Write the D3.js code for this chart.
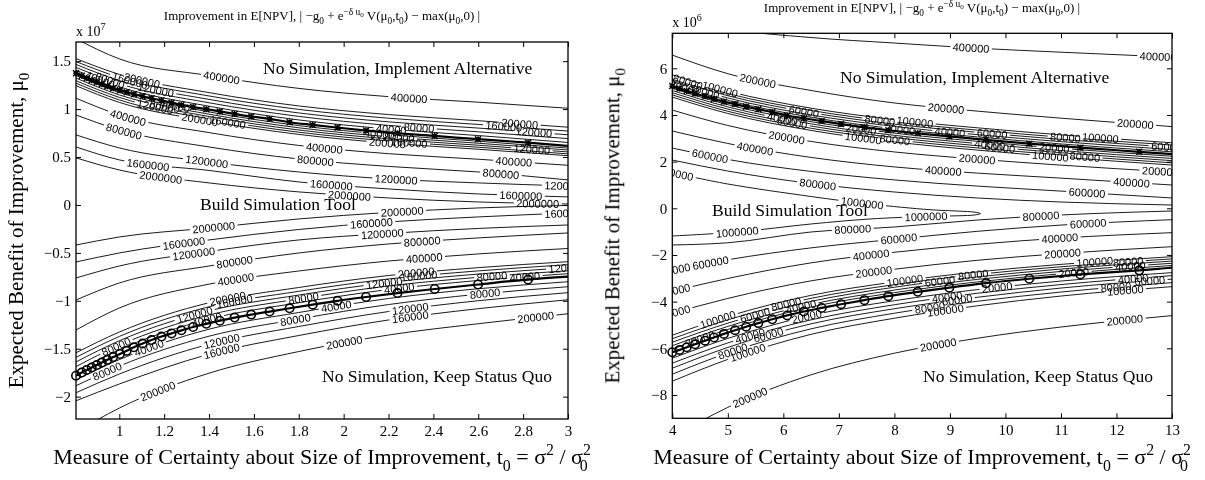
<!DOCTYPE html>
<html>
<head>
<meta charset="utf-8">
<script src="https://cdn.jsdelivr.net/npm/d3@7/dist/d3.min.js"></script>
<style>
html,body{margin:0;padding:0;background:#fff;}
svg{display:block;}
.gray{opacity:0.999;}
</style>
</head>
<body>
<svg id="chart" width="1205" height="480"></svg>
<script>
// ====================== DATA ======================
// ---- Left panel: t0 in [0.807,3], mu0 in units of 1e7 ----
const leftT = [0.807, 1.0, 1.4, 1.8, 2.2, 2.6, 3.0];

const leftLevelsImplement = [40000, 80000, 120000, 160000, 200000, 400000];
const leftMuImplement = [
  [1.405, 1.233, 1.030, 0.887, 0.792, 0.724, 0.652],
  [1.435, 1.265, 1.066, 0.924, 0.830, 0.763, 0.692],
  [1.466, 1.297, 1.101, 0.960, 0.867, 0.802, 0.732],
  [1.496, 1.330, 1.137, 0.997, 0.905, 0.840, 0.771],
  [1.526, 1.362, 1.172, 1.033, 0.943, 0.879, 0.811],
  [1.733, 1.524, 1.350, 1.216, 1.130, 1.072, 1.009]
];
const leftLabImplement = [[0.914, 2.212], [0.958, 2.336], [1.163, 2.848], [1.048, 2.714], [1.101, 2.785], [1.456, 2.292]];

const leftLevelsBuildUp = [40000, 80000, 120000, 160000, 200000, 400000, 800000, 1200000, 1600000, 2000000];
const leftMuBuildUp = [
  [1.349, 1.174, 0.971, 0.828, 0.733, 0.665, 0.593],
  [1.323, 1.148, 0.947, 0.805, 0.711, 0.644, 0.573],
  [1.296, 1.122, 0.923, 0.782, 0.689, 0.623, 0.553],
  [1.270, 1.096, 0.899, 0.759, 0.667, 0.602, 0.533],
  [1.244, 1.070, 0.875, 0.736, 0.645, 0.581, 0.514],
  [1.114, 0.939, 0.755, 0.621, 0.535, 0.477, 0.414],
  [0.939, 0.783, 0.605, 0.480, 0.402, 0.344, 0.261],
  [0.731, 0.595, 0.449, 0.344, 0.271, 0.230, 0.198],
  [0.605, 0.470, 0.360, 0.240, 0.167, 0.115, 0.084],
  [0.491, 0.365, 0.230, 0.136, 0.073, 0.031, 0.010]
];
const leftLabBuildUp = [[1.248, 2.159], [1.203, 2.248], [1.159, 2.839], [1.483, 2.292], [1.359, 2.195],
  [1.039, 1.914, 2.759], [1.021, 1.874, 2.701], [1.39, 2.234, 2.99], [1.128, 1.945, 2.79], [1.185, 2.026, 2.865]];

const leftLevelsBuildLow = [2000000, 1600000, 1200000, 800000, 400000, 200000, 160000, 120000, 80000, 40000];
const leftMuBuildLow = [
  [-0.418, -0.334, -0.240, -0.146, -0.078, -0.031, -0.005],
  [-0.595, -0.501, -0.365, -0.256, -0.177, -0.125, -0.084],
  [-0.762, -0.637, -0.485, -0.365, -0.297, -0.245, -0.209],
  [-0.992, -0.814, -0.637, -0.501, -0.407, -0.344, -0.292],
  [-1.305, -1.075, -0.826, -0.689, -0.585, -0.511, -0.454],
  [-1.542, -1.326, -1.020, -0.861, -0.736, -0.654, -0.592],
  [-1.590, -1.372, -1.062, -0.901, -0.772, -0.688, -0.623],
  [-1.638, -1.417, -1.105, -0.940, -0.809, -0.721, -0.654],
  [-1.686, -1.463, -1.148, -0.980, -0.845, -0.755, -0.686],
  [-1.734, -1.509, -1.191, -1.020, -0.882, -0.788, -0.717]
];
const leftLabBuildLow = [[1.421, 2.261], [1.288, 2.124, 2.99], [1.332, 2.172], [1.514, 2.35], [1.519, 2.359],
  [1.483, 2.323], [1.514, 2.336], [1.336, 2.181, 2.995], [0.986, 1.821, 2.661], [1.39, 2.248, 2.808]];

const leftLevelsQuo = [40000, 80000, 120000, 160000, 200000];
const leftMuQuo = [
  [-1.824, -1.613, -1.296, -1.122, -0.976, -0.874, -0.801],
  [-1.886, -1.681, -1.369, -1.190, -1.039, -0.931, -0.853],
  [-1.959, -1.764, -1.453, -1.268, -1.112, -0.999, -0.915],
  [-2.043, -1.868, -1.557, -1.362, -1.200, -1.082, -0.989],
  [-2.369, -2.119, -1.755, -1.529, -1.357, -1.239, -1.135]
];
const leftLabQuo = [[1.133, 1.967], [0.946, 1.785, 2.63], [1.456, 2.297], [1.456, 2.297], [1.172, 2.003, 2.856]];

// boundaries (markers at grid t values, line continues to the right edge)
const leftGridT = [0.807, 0.833, 0.855, 0.877, 0.900, 0.922, 0.947, 0.973, 1.003, 1.033, 1.065, 1.104, 1.144, 1.188, 1.233,
  1.277, 1.329, 1.388, 1.448, 1.514, 1.588, 1.670, 1.759, 1.862, 1.973, 2.100, 2.240, 2.406, 2.599, 2.822, 3.0];
const leftUpperMu = [1.375, 1.347, 1.323, 1.301, 1.279, 1.259, 1.238, 1.218, 1.197, 1.176, 1.156, 1.133, 1.112, 1.091, 1.065,
  1.044, 1.021, 0.999, 0.976, 0.950, 0.922, 0.898, 0.863, 0.835, 0.807, 0.776, 0.748, 0.720, 0.686, 0.650, 0.616];
const leftLowerMu = [-1.782, -1.748, -1.722, -1.696, -1.670, -1.644, -1.616, -1.587, -1.555, -1.522, -1.485, -1.446, -1.409, -1.373, -1.340,
  -1.308, -1.273, -1.240, -1.208, -1.175, -1.144, -1.112, -1.078, -1.040, -1.000, -0.960, -0.919, -0.877, -0.830, -0.778, -0.748];

const leftXTicks = [1, 1.2, 1.4, 1.6, 1.8, 2, 2.2, 2.4, 2.6, 2.8, 3];
const leftYTicks = [-2, -1.5, -1, -0.5, 0, 0.5, 1, 1.5];

// ---- Right panel: t0 in [4,13], mu0 in units of 1e6 ----
const rightT = [4, 5, 6.5, 8, 9.5, 11, 13];

const rightLevelsImplement = [20000, 40000, 60000, 80000, 100000, 200000, 400000];
const rightMuImplement = [
  [5.332, 4.628, 3.902, 3.409, 3.058, 2.758, 2.420],
  [5.430, 4.727, 4.000, 3.508, 3.156, 2.857, 2.518],
  [5.529, 4.825, 4.099, 3.606, 3.255, 2.955, 2.617],
  [5.623, 4.919, 4.193, 3.700, 3.349, 3.049, 2.711],
  [5.722, 5.018, 4.291, 3.799, 3.448, 3.148, 2.809],
  [6.565, 5.769, 5.049, 4.514, 4.163, 3.863, 3.503],
  [8.236, 7.696, 7.319, 7.083, 6.861, 6.690, 6.480]
];
const rightLabImplement = [[4.22, 8.1], [4.58, 9.0], [6.37, 9.76, 12.9], [4.28, 7.74, 11.08], [4.86, 8.37, 11.71], [5.54, 8.93, 12.34], [9.38, 12.75]];

const rightLevelsBuildUp = [20000, 40000, 60000, 80000, 100000, 200000, 400000, 600000, 800000];
const rightMuBuildUp = [
  [5.144, 4.440, 3.713, 3.221, 2.869, 2.570, 2.231],
  [5.049, 4.346, 3.619, 3.126, 2.775, 2.475, 2.137],
  [4.955, 4.251, 3.525, 3.032, 2.681, 2.381, 2.043],
  [4.861, 4.157, 3.430, 2.938, 2.587, 2.287, 1.949],
  [4.767, 4.063, 3.336, 2.844, 2.493, 2.193, 1.854],
  [4.210, 3.549, 2.865, 2.415, 2.107, 1.850, 1.555],
  [3.311, 2.778, 2.180, 1.773, 1.508, 1.293, 0.998],
  [2.582, 2.093, 1.580, 1.216, 0.951, 0.737, 0.441],
  [2.069, 1.597, 1.062, 0.698, 0.441, 0.270, 0.141]
];
const rightLabBuildUp = [[7.40, 10.88], [5.98, 9.72], [6.16, 9.9], [8.01, 11.43], [7.44, 10.81], [6.06, 9.49, 12.79],
  [5.49, 8.88, 12.27], [4.68, 11.47], [6.62]];

// the 1000000 contour closes on itself (rounded U turn near t0 = 9.5)
const rightRidgeLevel = 1000000;
const rightRidgeT = [4, 5, 6.5, 7.56, 8.64, 9.15, 9.45, 9.55, 9.45, 9.15, 8.64, 7.56, 6.5, 5.17, 4];
const rightRidgeMu = [1.525, 1.041, 0.505, 0.184, -0.060, -0.120, -0.165, -0.225, -0.285, -0.320, -0.345, -0.458, -0.672, -1.015, -1.186];
const rightRidgeLab = [[3.93, 0], [7.42, 0], [8.57, 1], [5.17, 1]];

const rightLevelsBuildLow = [20000, 40000, 60000, 80000, 100000, 200000, 400000, 600000, 800000];
const rightMuBuildLow = [
  [-6.039, -5.191, -4.231, -3.615, -3.152, -2.805, -2.450],
  [-5.889, -5.062, -4.116, -3.503, -3.045, -2.707, -2.355],
  [-5.739, -4.921, -3.987, -3.383, -2.938, -2.604, -2.261],
  [-5.589, -4.780, -3.859, -3.272, -2.831, -2.505, -2.167],
  [-5.439, -4.634, -3.730, -3.156, -2.724, -2.403, -2.073],
  [-4.497, -3.863, -3.109, -2.612, -2.227, -1.940, -1.645],
  [-3.555, -3.007, -2.338, -1.884, -1.542, -1.276, -1.045],
  [-2.655, -2.206, -1.696, -1.328, -0.985, -0.719, -0.488],
  [-1.572, -1.478, -1.015, -0.801, -0.501, -0.287, -0.116]
];
const rightLabBuildLow = [[4.5, 11.23], [6.32, 12.25], [5.49, 8.82], [6.05, 9.42, 12.21], [4.82, 8.19, 11.61],
  [3.95, 7.63, 11.03], [3.93, 7.58, 10.98], [3.87, 4.69, 8.08, 11.49], [7.25, 10.64]];

const rightLevelsQuo = [20000, 40000, 60000, 80000, 100000, 200000];
const rightMuQuo = [
  [-6.424, -5.576, -4.587, -3.961, -3.482, -3.118, -2.758],
  [-6.638, -5.769, -4.780, -4.133, -3.640, -3.268, -2.886],
  [-6.852, -5.962, -4.951, -4.304, -3.812, -3.418, -3.036],
  [-7.109, -6.197, -5.165, -4.497, -3.983, -3.589, -3.186],
  [-7.409, -6.476, -5.400, -4.711, -4.176, -3.760, -3.358],
  [-9.807, -8.531, -7.135, -6.210, -5.567, -5.088, -4.600]
];
const rightLabQuo = [[6.42, 9.85], [5.4, 8.95, 12.3], [5.73, 9.13, 12.6], [5.09, 8.64, 11.99], [5.36, 8.92, 12.16], [5.4, 8.79, 12.15]];

const rightGridT = [4.00, 4.13, 4.26, 4.41, 4.59, 4.75, 4.93, 5.13, 5.33, 5.55, 5.80, 6.07, 6.37, 6.69, 7.04, 7.46, 7.89,
  8.42, 8.99, 9.65, 10.43, 11.35, 12.41, 13.0];
const rightUpperMu = [5.238, 5.131, 5.024, 4.916, 4.797, 4.681, 4.570, 4.467, 4.360, 4.240, 4.124, 3.979, 3.859, 3.739, 3.610,
  3.469, 3.345, 3.212, 3.079, 2.934, 2.771, 2.600, 2.420, 2.321];
const rightLowerMu = [-6.167, -6.069, -5.957, -5.829, -5.675, -5.537, -5.383, -5.225, -5.075, -4.921, -4.754, -4.591, -4.424,
  -4.270, -4.111, -3.936, -3.764, -3.580, -3.400, -3.208, -3.020, -2.835, -2.660, -2.544];

const rightXTicks = [4, 5, 6, 7, 8, 9, 10, 11, 12, 13];
const rightYTicks = [-8, -6, -4, -2, 0, 2, 4, 6];

const regionTexts = ["No Simulation, Implement Alternative", "Build Simulation Tool", "No Simulation, Keep Status Quo"];

// ====================== DRAWING ======================
const SERIF = "'Liberation Serif', 'Times New Roman', Times, serif";
const SANS = "'Liberation Sans', Arial, Helvetica, sans-serif";
const svg = d3.select('#chart');
svg.append('rect').attr('width', 1205).attr('height', 480).attr('fill', '#fff');
const defs = svg.append('defs');
let maskCount = 0;

function drawContour(lineG, labelG, x, y, T, mu, level, labelSpecs, curve) {
  const pts = T.map((t, i) => [x(t), y(mu[i])]);
  const path = lineG.append('path')
    .attr('d', d3.line().curve(curve)(pts))
    .attr('fill', 'none').attr('stroke', '#000').attr('stroke-width', 0.9);
  if (!labelSpecs || !labelSpecs.length) return;
  const node = path.node();
  const L = node.getTotalLength();
  const samples = [];
  for (let l = 0; l <= L; l += 1) { const p = node.getPointAtLength(l); samples.push({ l, x: p.x }); }
  const id = 'lm' + (maskCount++);
  const mask = defs.append('mask').attr('id', id).attr('maskUnits', 'userSpaceOnUse')
    .attr('x', 0).attr('y', 0).attr('width', 1205).attr('height', 480);
  mask.append('rect').attr('x', 0).attr('y', 0).attr('width', 1205).attr('height', 480).attr('fill', '#fff');
  labelSpecs.forEach(spec => {
    const tv = Array.isArray(spec) ? spec[0] : spec;
    const k = Array.isArray(spec) ? spec[1] : 0;
    const tx = x(tv);
    const cross = [];
    for (let i = 1; i < samples.length; i++) {
      const a = samples[i - 1], b = samples[i];
      if ((a.x - tx) * (b.x - tx) < 0 || (b.x === tx)) {
        const f = (b.x === a.x) ? 0 : (tx - a.x) / (b.x - a.x);
        cross.push(a.l + f * (b.l - a.l));
      }
    }
    let l;
    if (cross.length) l = cross[Math.min(k, cross.length - 1)];
    else l = (Math.abs(samples[0].x - tx) < Math.abs(samples[samples.length - 1].x - tx)) ? 0 : L;
    const p = node.getPointAtLength(l);
    const p1 = node.getPointAtLength(Math.max(0, l - 5));
    const p2 = node.getPointAtLength(Math.min(L, l + 5));
    let ang = Math.atan2(p2.y - p1.y, p2.x - p1.x) * 180 / Math.PI;
    if (ang > 90) ang -= 180;
    if (ang < -90) ang += 180;
    const tr = `translate(${p.x.toFixed(2)},${p.y.toFixed(2)}) rotate(${ang.toFixed(2)})`;
    const txt = labelG.append('text').attr('transform', tr).attr('text-anchor', 'middle')
      .attr('dy', '0.36em').text(String(level));
    const w = txt.node().getComputedTextLength();
    mask.append('rect').attr('transform', tr).attr('x', -w / 2 - 2.5).attr('y', -4.5)
      .attr('width', w + 5).attr('height', 9).attr('fill', '#000');
  });
  path.attr('mask', `url(#${id})`);
}

function richText(sel, parts) {
  let cur = 0;
  parts.forEach(([t, mode, dx]) => {
    const fs = parseFloat(sel.attr('font-size'));
    let target = 0, size = fs;
    if (mode === 'sub') { target = fs * 0.3; size = fs * 0.72; }
    if (mode === 'sup') { target = -fs * 0.42; size = fs * 0.72; }
    if (mode === 'supsub') { target = -fs * 0.22; size = fs * 0.55; }
    const ts = sel.append('tspan').attr('dy', (target - cur).toFixed(2)).attr('font-size', size).text(t);
    if (dx) ts.attr('dx', dx);
    cur = target;
  });
}

function panel(g) {
  const x = d3.scaleLinear().domain(g.xDom).range([g.x0, g.x1]);
  const y = d3.scaleLinear().domain(g.yDom).range([g.y1, g.y0]);
  const clipId = 'clip' + g.id;
  defs.append('clipPath').attr('id', clipId).append('rect')
    .attr('x', g.x0).attr('y', g.y0).attr('width', g.x1 - g.x0).attr('height', g.y1 - g.y0);
  const root = svg.append('g').attr('class', 'gray');
  const plot = root.append('g').attr('clip-path', `url(#${clipId})`);
  const lineG = plot.append('g');
  const labelG = plot.append('g').attr('font-family', SANS).attr('font-size', 11).attr('fill', '#000');

  g.families.forEach(f => {
    f.levels.forEach((lev, i) => drawContour(lineG, labelG, x, y, f.T, f.mu[i], lev, f.labels[i], d3.curveMonotoneX));
  });
  if (g.ridge) drawContour(lineG, labelG, x, y, g.ridge.T, g.ridge.mu, g.ridge.level, g.ridge.labels, d3.curveCatmullRom.alpha(0.5));

  const bl = d3.line().curve(d3.curveMonotoneX);
  plot.append('path').attr('d', bl(g.gridT.map((t, i) => [x(t), y(g.upper[i])])))
    .attr('fill', 'none').attr('stroke', '#000').attr('stroke-width', 2.2);
  plot.append('path').attr('d', bl(g.gridT.map((t, i) => [x(t), y(g.lower[i])])))
    .attr('fill', 'none').attr('stroke', '#000').attr('stroke-width', 2.2);

  const mk = root.append('g');
  const nM = g.gridT.length - 1;
  for (let i = 0; i < nM; i++) {
    const cx = x(g.gridT[i]), cyU = y(g.upper[i]), cyL = y(g.lower[i]);
    const s = 3;
    mk.append('path').attr('d', `M${cx - s},${cyU - s}L${cx + s},${cyU + s}M${cx - s},${cyU + s}L${cx + s},${cyU - s}M${cx},${cyU - s}L${cx},${cyU + s}M${cx - s},${cyU}L${cx + s},${cyU}`)
      .attr('stroke', '#000').attr('stroke-width', 1.4).attr('fill', 'none');
    mk.append('circle').attr('cx', cx).attr('cy', cyL).attr('r', 4.2)
      .attr('fill', 'none').attr('stroke', '#000').attr('stroke-width', 1.6);
  }

  const fmt = d3.format('~g');
  const ax = root.append('g');
  const styleAx = s => s.attr('font-family', SERIF).attr('font-size', 15)
    .call(a => a.select('.domain').remove())
    .call(a => a.selectAll('line').attr('stroke', '#000').attr('stroke-width', 1))
    .call(a => a.selectAll('text').attr('fill', '#000'));
  ax.append('g').attr('transform', `translate(0,${g.y1})`)
    .call(d3.axisBottom(x).tickValues(g.xTicks).tickSizeInner(-5).tickSizeOuter(0).tickPadding(6).tickFormat(fmt)).call(styleAx);
  ax.append('g').attr('transform', `translate(0,${g.y0})`)
    .call(d3.axisTop(x).tickValues(g.xTicks).tickSizeInner(-5).tickSizeOuter(0).tickFormat('')).call(styleAx);
  ax.append('g').attr('transform', `translate(${g.x0},0)`)
    .call(d3.axisLeft(y).tickValues(g.yTicks).tickSizeInner(-5).tickSizeOuter(0).tickPadding(5).tickFormat(fmt)).call(styleAx);
  ax.append('g').attr('transform', `translate(${g.x1},0)`)
    .call(d3.axisRight(y).tickValues(g.yTicks).tickSizeInner(-5).tickSizeOuter(0).tickFormat('')).call(styleAx);
  root.append('rect').attr('x', g.x0).attr('y', g.y0).attr('width', g.x1 - g.x0).attr('height', g.y1 - g.y0)
    .attr('fill', 'none').attr('stroke', '#000').attr('stroke-width', 1.3);

  const ex = root.append('text').attr('x', g.x0).attr('y', g.y0 - 6).attr('font-family', SERIF).attr('font-size', 14);
  ex.append('tspan').text('x 10');
  ex.append('tspan').attr('dy', -6).attr('font-size', 10).text(g.exp);

  const tt = root.append('text').attr('x', g.titleX).attr('y', g.titleY).attr('text-anchor', 'middle')
    .attr('font-family', SERIF).attr('font-size', 13);
  richText(tt, [['Improvement in E[NPV], | \u2212g', 'n'], ['0', 'sub'], [' + e', 'n'], ['\u2212\u03B4 u', 'sup'], ['0', 'supsub'],
    [' V(\u03BC', 'n'], ['0', 'sub'], [',t', 'n'], ['0', 'sub'], [') \u2212 max(\u03BC', 'n'], ['0', 'sub'], [',0) |', 'n']]);

  const xl = root.append('text').attr('x', (g.x0 + g.x1) / 2).attr('y', 464).attr('text-anchor', 'middle')
    .attr('font-family', SERIF).attr('font-size', 22);
  richText(xl, [['Measure of Certainty about Size of Improvement, t', 'n'], ['0', 'sub'], [' = \u03C3', 'n'], ['2', 'sup'],
    [' / \u03C3', 'n'], ['2', 'sup'], ['0', 'sub', -11]]);
  const yl = root.append('text').attr('transform', `translate(${g.x0 - 53},${(g.y0 + g.y1) / 2}) rotate(-90)`)
    .attr('text-anchor', 'middle').attr('font-family', SERIF).attr('font-size', 21);
  richText(yl, [['Expected Benefit of Improvement, \u03BC', 'n'], ['0', 'sub']]);

  const rg = root.append('g').attr('font-family', SERIF).attr('font-size', 17.5);
  g.regionPos.forEach((p, i) => {
    rg.append('text').attr('x', p[0]).attr('y', p[1]).text(regionTexts[i]);
  });
}

panel({
  id: 'L', x0: 76, x1: 568, y0: 42, y1: 419, xDom: [0.807, 3], yDom: [-2.233, 1.70],
  xTicks: leftXTicks, yTicks: leftYTicks, exp: '7', titleX: 322, titleY: 20,
  families: [
    { T: leftT, levels: leftLevelsImplement, mu: leftMuImplement, labels: leftLabImplement },
    { T: leftT, levels: leftLevelsBuildUp, mu: leftMuBuildUp, labels: leftLabBuildUp },
    { T: leftT, levels: leftLevelsBuildLow, mu: leftMuBuildLow, labels: leftLabBuildLow },
    { T: leftT, levels: leftLevelsQuo, mu: leftMuQuo, labels: leftLabQuo }
  ],
  gridT: leftGridT, upper: leftUpperMu, lower: leftLowerMu,
  regionPos: [[263, 74], [200, 210], [322, 382]]
});

panel({
  id: 'R', x0: 672.3, x1: 1172, y0: 33.3, y1: 418.3, xDom: [4, 13], yDom: [-9, 7.5],
  xTicks: rightXTicks, yTicks: rightYTicks, exp: '6', titleX: 922, titleY: 12,
  families: [
    { T: rightT, levels: rightLevelsImplement, mu: rightMuImplement, labels: rightLabImplement },
    { T: rightT, levels: rightLevelsBuildUp, mu: rightMuBuildUp, labels: rightLabBuildUp },
    { T: rightT, levels: rightLevelsBuildLow, mu: rightMuBuildLow, labels: rightLabBuildLow },
    { T: rightT, levels: rightLevelsQuo, mu: rightMuQuo, labels: rightLabQuo }
  ],
  ridge: { T: rightRidgeT, mu: rightRidgeMu, level: rightRidgeLevel, labels: rightRidgeLab },
  gridT: rightGridT, upper: rightUpperMu, lower: rightLowerMu,
  regionPos: [[840, 83], [712, 216], [923, 382]]
});
</script>
</body>
</html>
